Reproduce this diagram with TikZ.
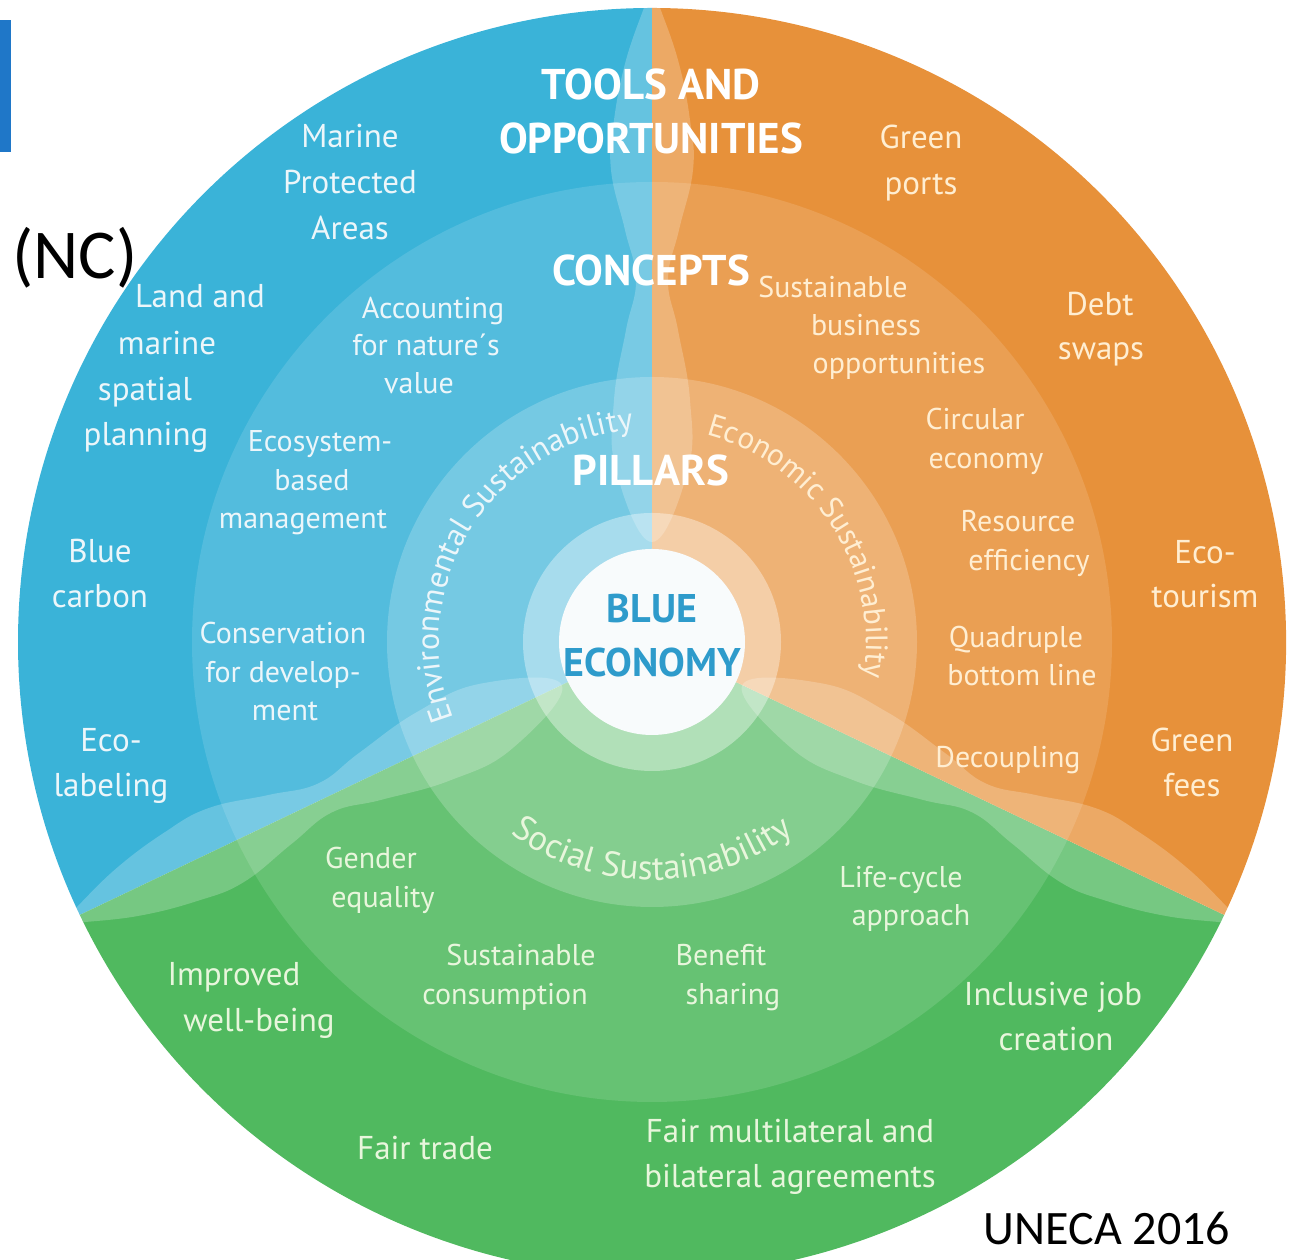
\documentclass[tikz,border=0pt]{standalone}
\usepackage{fontspec}
\setmainfont{PT Sans}
\newfontfamily\calib{Carlito}
\usetikzlibrary{decorations.text}
\definecolor{bluesec}{RGB}{58,179,216}
\definecolor{orangesec}{RGB}{231,145,58}
\definecolor{greensec}{RGB}{80,185,95}
\definecolor{btxt}{RGB}{236,246,250}
\definecolor{otxt}{RGB}{255,238,210}
\definecolor{gtxt}{RGB}{232,246,220}
\definecolor{ecoblue}{RGB}{46,155,203}
\definecolor{barblue}{RGB}{31,119,200}
\definecolor{corewhite}{RGB}{248,251,252}
\tikzset{
  lbl/.style={inner sep=0pt, text height=22pt, text depth=6pt},
  outB/.style={lbl, text=btxt, font=\fontsize{33}{40}\selectfont},
  outO/.style={lbl, text=otxt, font=\fontsize{33}{40}\selectfont},
  outG/.style={lbl, text=gtxt, font=\fontsize{33}{40}\selectfont},
  conB/.style={lbl, text=btxt, font=\fontsize{30}{36}\selectfont},
  conO/.style={lbl, text=otxt, font=\fontsize{30}{36}\selectfont},
  conG/.style={lbl, text=gtxt, font=\fontsize{30}{36}\selectfont},
  ttl/.style={lbl, text height=30pt, text depth=2pt, text=white, font=\fontsize{43}{50}\selectfont\bfseries},
  core/.style={lbl, text height=28pt, text depth=2pt, text=ecoblue, font=\fontsize{40}{48}\selectfont\bfseries},
  lensfill/.style={fill=white, fill opacity=0.22},
}
\begin{document}
\begin{tikzpicture}[x=1pt,y=1pt]
\useasboundingbox (0,0) rectangle (1294,1260);
\coordinate (C) at (652,618);
\begin{scope}
\clip (0,0) rectangle (1294,1260);
\fill[bluesec] (C) -- ++(90:634) arc[start angle=90,end angle=205.5,radius=634] -- cycle;
\fill[greensec] (C) -- ++(205.5:634) arc[start angle=205.5,end angle=334.5,radius=634] -- cycle;
\fill[orangesec] (C) -- ++(334.5:634) arc[start angle=334.5,end angle=450,radius=634] -- cycle;
\clip (C) circle[radius=634];
\foreach \a in {90,205.5,334.5}{
  \path[lensfill, shift={(C)}, rotate=\a] plot[smooth cycle, tension=0.7] coordinates {(100,0) (172,36) (242,38) (312,26) (362,16) (412,27) (472,41) (522,38) (582,26) (640,6) (660,0) (640,-6) (582,-26) (522,-38) (472,-41) (412,-27) (362,-16) (312,-26) (242,-38) (172,-36)};
}
\fill[white, fill opacity=0.13] (C) circle[radius=460];
\fill[white, fill opacity=0.2] (C) circle[radius=265];
\fill[white, fill opacity=0.37] (C) circle[radius=129];
\fill[corewhite] (C) circle[radius=93];
\end{scope}

% curved pillar texts
\path[shift={(C)}, decorate, decoration={text along path, text align=center,
  text={|\fontsize{32}{32}\selectfont\color{btxt}|Environmental Sustainability}}]
  (240:213) arc[start angle=240, end angle=56, radius=213];
\path[shift={(C)}, decorate, decoration={text along path, text align=center,
  text={|\fontsize{31}{31}\selectfont\color{otxt}|Economic Sustainability}}]
  (123:214) arc[start angle=123, end angle=-57, radius=214];
\path[shift={(C)}, decorate, decoration={text along path, text align=center,
  text={|\fontsize{35}{35}\selectfont\color{gtxt}|Social Sustainability}}]
  (190:238) arc[start angle=190, end angle=350, radius=238];

% titles
\node[ttl] (tools1) at (651,1174) {TOOLS AND};
\node[ttl] (tools2) at (651,1120) {OPPORTUNITIES};
\node[ttl] (concepts) at (651,988) {CONCEPTS};
\node[ttl] (pillars) at (651,788) {PILLARS};
\node[core] (blue) at (652,650) {BLUE};
\node[core] (economy) at (652,596) {ECONOMY};

% outer ring, blue
\node[outB] (mar1) at (350,1120) {Marine};
\node[outB] (mar2) at (350,1074) {Protected};
\node[outB] (mar3) at (350,1028) {Areas};
\node[outB] (land1) at (200,960) {Land and};
\node[outB] (land2) at (167,913) {marine};
\node[outB] (land3) at (145,867) {spatial};
\node[outB] (land4) at (146,822) {planning};
\node[outB] (bc1) at (100,705) {Blue};
\node[outB] (bc2) at (100,660) {carbon};
\node[outB] (el1) at (111,516) {Eco-};
\node[outB] (el2) at (111,471) {labeling};
% outer ring, orange
\node[outO] (gp1) at (921,1119) {Green};
\node[outO] (gp2) at (921,1073) {ports};
\node[outO] (ds1) at (1100,952) {Debt};
\node[outO] (ds2) at (1101,908) {swaps};
\node[outO] (et1) at (1205,704) {Eco-};
\node[outO] (et2) at (1205,660) {tourism};
\node[outO] (gf1) at (1192,516) {Green};
\node[outO] (gf2) at (1192,471) {fees};
% outer ring, green
\node[outG] (iw1) at (234,282) {Improved};
\node[outG] (iw2) at (259,236) {well-being};
\node[outG] (ft) at (425,108) {Fair trade};
\node[outG] (fm1) at (790,125) {Fair multilateral and};
\node[outG] (fm2) at (790,80) {bilateral agreements};
\node[outG] (ij1) at (1053,262) {Inclusive job};
\node[outG] (ij2) at (1056,217) {creation};

% concepts, blue
\node[conB] (ac1) at (433,949) {Accounting};
\node[conB] (ac2) at (426,912) {for nature´s};
\node[conB] (ac3) at (419,874) {value};
\node[conB] (eb1) at (320,816) {Ecosystem-};
\node[conB] (eb2) at (312,777) {based};
\node[conB] (eb3) at (303,739) {management};
\node[conB] (cd1) at (283,624) {Conservation};
\node[conB] (cd2) at (283,585) {for develop-};
\node[conB] (cd3) at (285,547) {ment};
% concepts, orange
\node[conO] (sb1) at (833,970) {Sustainable};
\node[conO] (sb2) at (866,932) {business};
\node[conO] (sb3) at (899,894) {opportunities};
\node[conO] (ce1) at (975,838) {Circular};
\node[conO] (ce2) at (986,799) {economy};
\node[conO] (re1) at (1018,736) {Resource};
\node[conO] (re2) at (1029,697) {efficiency};
\node[conO] (qb1) at (1016,620) {Quadruple};
\node[conO] (qb2) at (1022,582) {bottom line};
\node[conO] (dc) at (1008,500) {Decoupling};
% concepts, green
\node[conG] (ge1) at (371,399) {Gender};
\node[conG] (ge2) at (383,360) {equality};
\node[conG] (sc1) at (521,302) {Sustainable};
\node[conG] (sc2) at (505,263) {consumption};
\node[conG] (bs1) at (721,302) {Benefit};
\node[conG] (bs2) at (733,263) {sharing};
\node[conG] (lc1) at (901,380) {Life-cycle};
\node[conG] (lc2) at (911,342) {approach};

% extras
\fill[barblue] (0,1108) rectangle (11,1240);
\node[inner sep=0pt, font=\calib\fontsize{70}{70}\selectfont] (nc) at (75,1002) {(NC)};
\node[inner sep=0pt, font=\calib\fontsize{48}{48}\selectfont] (uneca) at (1107,32) {UNECA 2016};
\end{tikzpicture}
\end{document}
